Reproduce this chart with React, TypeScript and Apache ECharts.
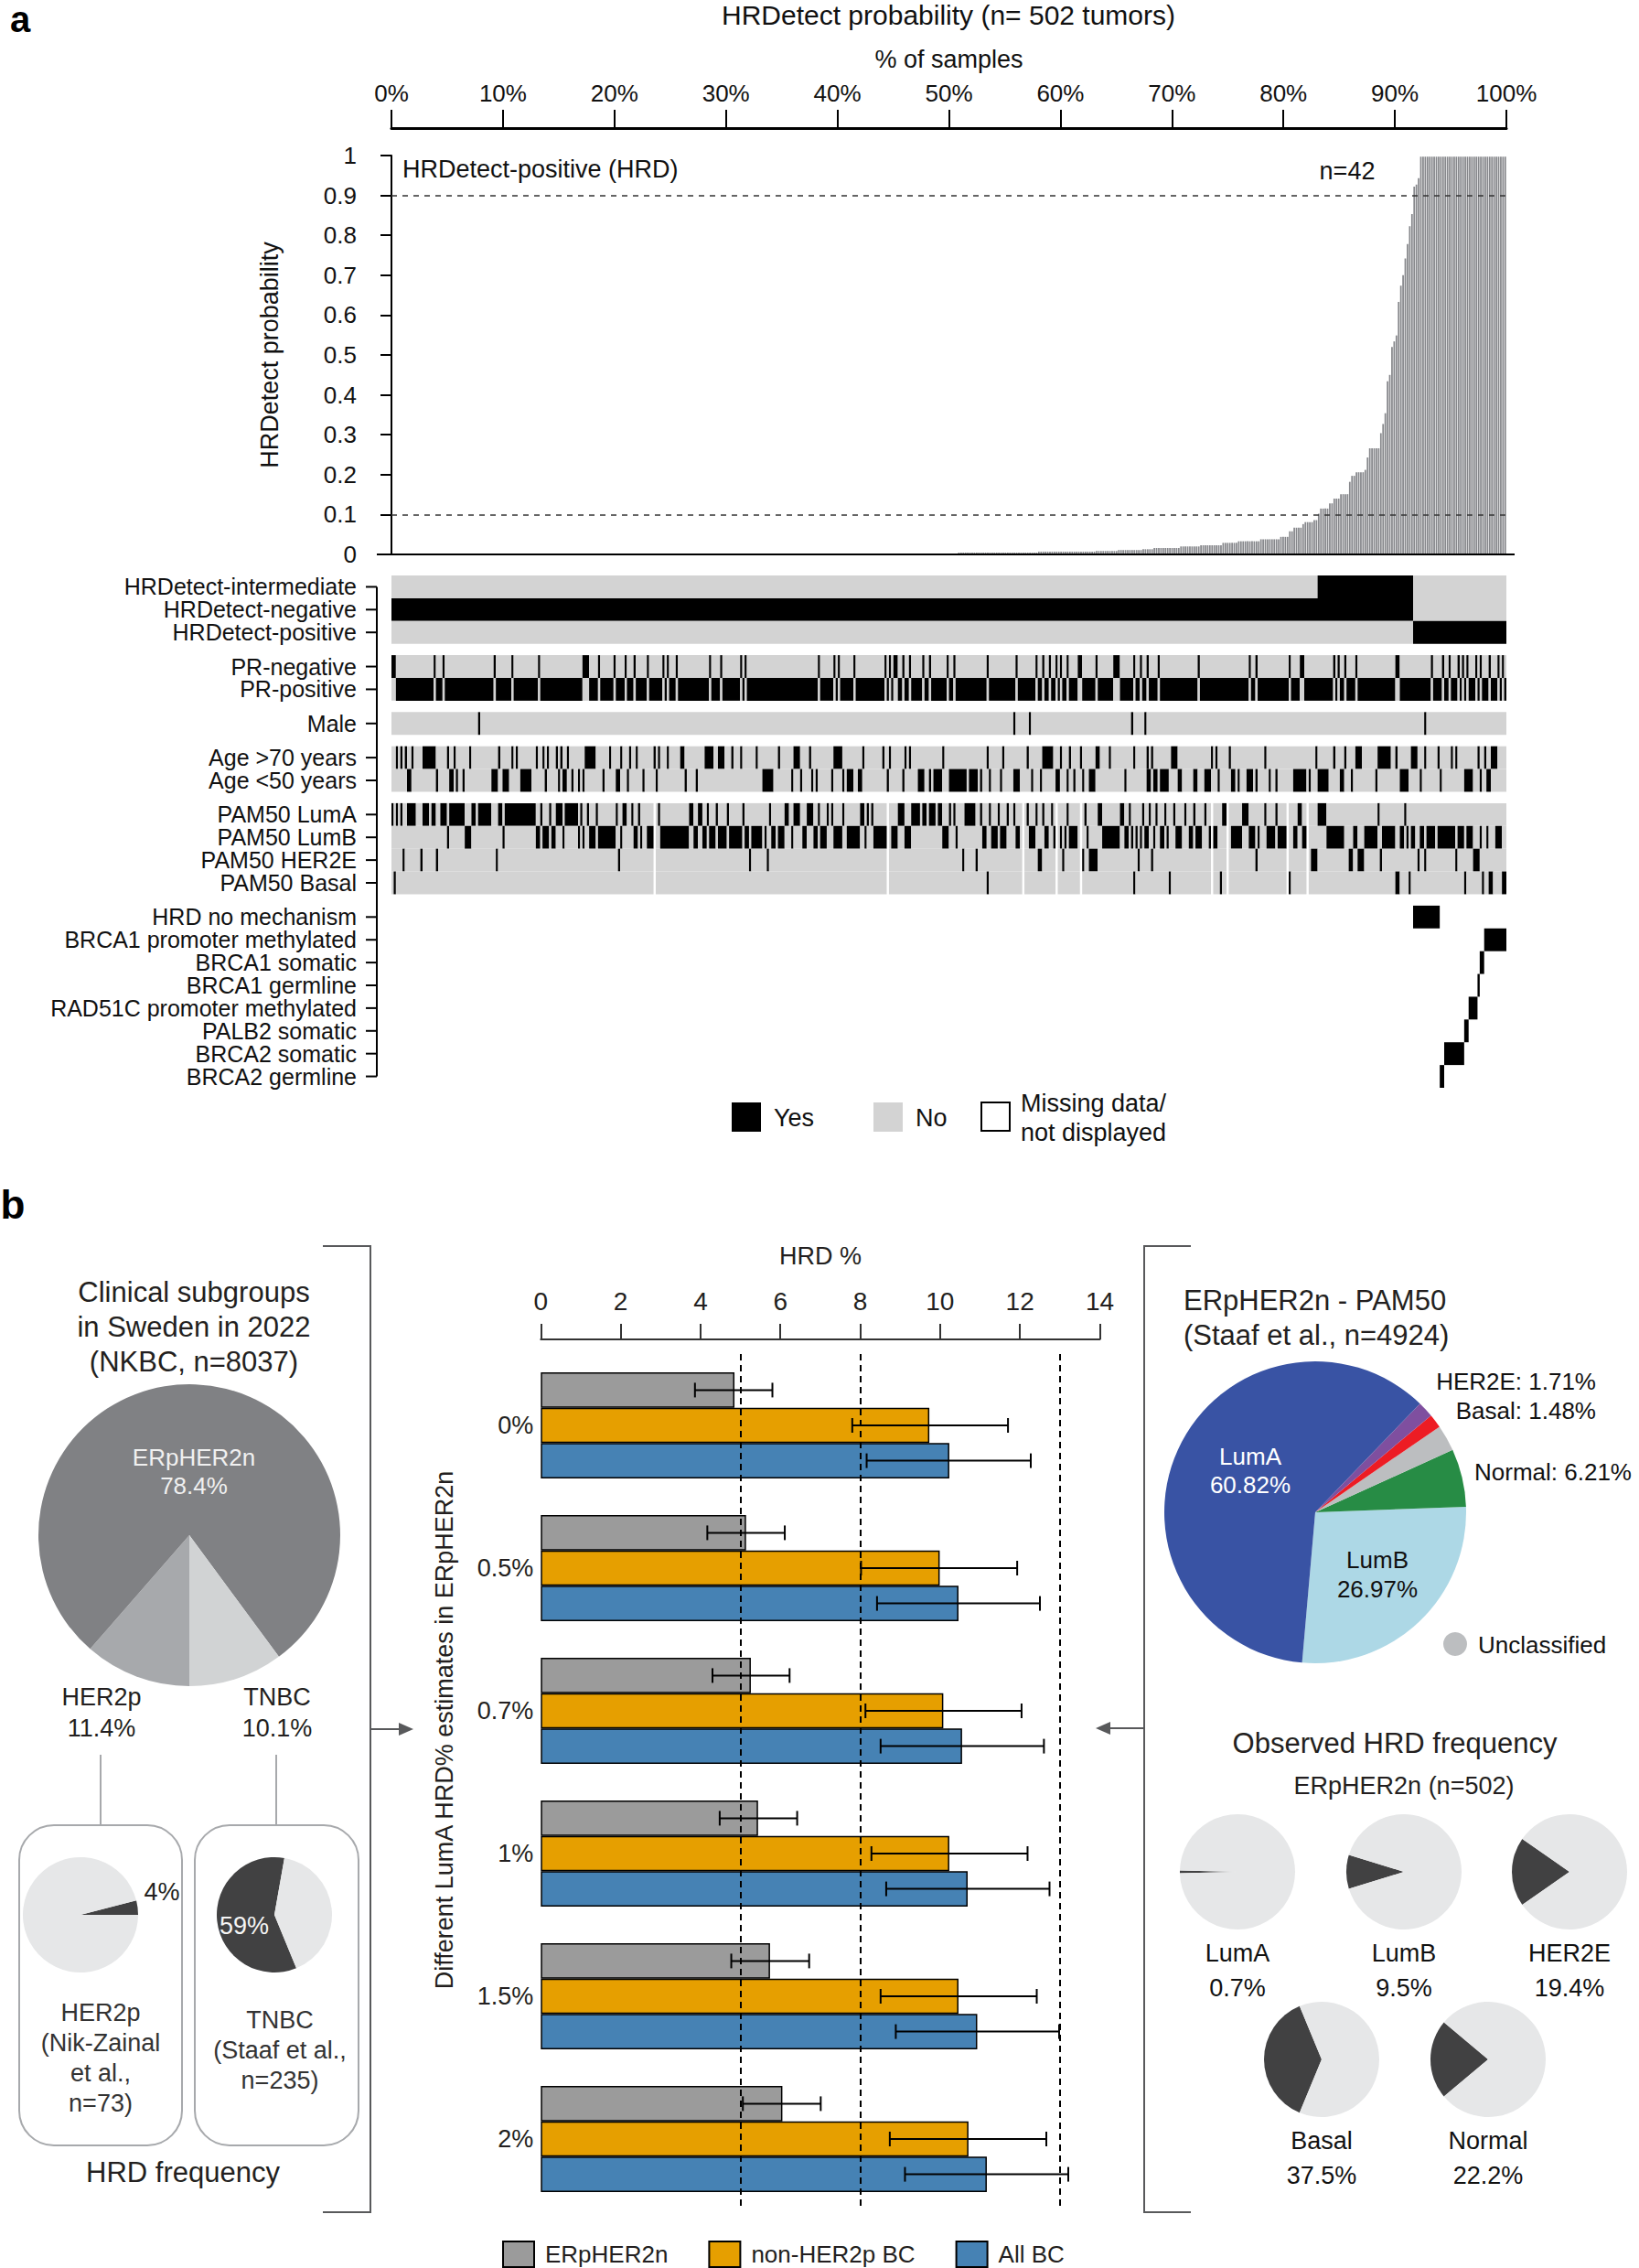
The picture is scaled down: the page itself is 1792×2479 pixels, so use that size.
import React, { useEffect, useRef } from "react";
import * as echarts from "echarts";

const FONT = '"Liberation Sans", Arial, Helvetica, sans-serif';
const N = 502;

// ---------------- Panel a: HRDetect probability, sorted (502 tumours) ----------------
// [number of consecutive tumours, HRDetect probability]
const HRDETECT_RUNS: [number, number][] = [
  [190, 0.0005], [65, 0.0023], [36, 0.0046], [26, 0.007], [10, 0.0085], [11, 0.011],
  [5, 0.013], [12, 0.016], [9, 0.02], [10, 0.023], [7, 0.029], [10, 0.033], [9, 0.038],
  [4, 0.044], [2, 0.058], [4, 0.067], [1, 0.076], [4, 0.081], [2, 0.086],
  [1, 0.102], [4, 0.115], [2, 0.128], [3, 0.14], [4, 0.151], [1, 0.182], [2, 0.197],
  [4, 0.206], [1, 0.212], [1, 0.243], [5, 0.266], [1, 0.304], [1, 0.327], [1, 0.354],
  [1, 0.434], [1, 0.45], [1, 0.52], [1, 0.534], [1, 0.549], [1, 0.633], [1, 0.674],
  [1, 0.7], [1, 0.742], [1, 0.778], [1, 0.823], [1, 0.853], [1, 0.922], [1, 0.927],
  [1, 0.943], [39, 0.997],
];
const HRD_THRESHOLDS = [0.9, 0.1];

type Mark = number | [number, number];

const TRACK_LABELS = [
  "HRDetect-intermediate", "HRDetect-negative", "HRDetect-positive",
  "PR-negative", "PR-positive",
  "Male",
  "Age >70 years", "Age <50 years",
  "PAM50 LumA", "PAM50 LumB", "PAM50 HER2E", "PAM50 Basal",
  "HRD no mechanism", "BRCA1 promoter methylated", "BRCA1 somatic", "BRCA1 germline",
  "RAD51C promoter methylated", "PALB2 somatic", "BRCA2 somatic", "BRCA2 germline",
];
const TRACK_GROUPS = [0, 0, 0, 1, 1, 2, 3, 3, 4, 4, 4, 4, 5, 5, 5, 5, 5, 5, 5, 5];

const HRD_INTERMEDIATE: Mark[] = [[417, 459]];
const HRD_NEGATIVE: Mark[] = [[0, 459]];
const HRD_POSITIVE: Mark[] = [[460, 501]];

const PR_NEGATIVE: Mark[] = [
  [0, 1], 19, 23, 46, 54, 66, 86, [87, 88], 93, 100, 105, 109, 115, 122, 124, 128, 143, 148,
  157, 159, 192, 199, 201, 208, 222, 224, 226, 227, 230, 233, 239, 242, 250, 253, 268, 281,
  290, 293, 296, 299, 301, 304, [309, 310], 317, [325, 327], 334, 337, 340, 345, 363, 386,
  389, 404, [409, 410], 424, 426, 429, 434, 452, 453, 468, 473, 476, 480, 482, 484, 488, 490,
  494, 498, 500,
];
const MALE: Mark[] = [39, 280, 287, 333, 339, 465];
const AGE_OVER70: Mark[] = [
  2, 4, 6, 9, [14, 19], 25, 28, 35, 48, 54, 56, 65, 68, 70, 74, 76, 79, [87, 91], 98, 103,
  107, 110, 118, 120, 124, [130, 131], [141, 144], [147, 149], 153, 157, 164, 174, [181, 183],
  188, [199, 202], 212, 221, 224, 231, 233, 248, 268, 275, 286, [293, 297], 301, 305, 310,
  [317, 318], 323, 334, 340, 342, [351, 353], 369, 371, 377, 393, 416, 424, 429, [434, 436],
  [444, 448], 449, 452, [459, 461], 465, 471, 477, 479, 489, 492, [495, 497],
];
const AGE_UNDER50: Mark[] = [
  [7, 8], 20, [26, 27], 29, 32, [45, 47], [50, 52], [58, 62], 69, 75, [77, 78], 81, 84, 86,
  95, [101, 102], 106, 113, 119, 132, 137, [167, 171], 180, 184, 189, 191, 198, 203,
  [205, 207], 210, 211, 223, 230, [237, 239], 242, [244, 247], [251, 258], [260, 263], 265,
  269, 274, [280, 282], 288, 292, [299, 300], 304, 307, 311, [314, 316], 330, [340, 341],
  [343, 344], [346, 349], [354, 355], [361, 362], [366, 368], 372, [378, 379], 381, [385, 387],
  389, 395, 398, [406, 411], 413, [417, 421], [427, 428], 432, 443, [454, 457], 463, 472,
  [483, 486], 490, [493, 494],
];

// PAM50 class per tumour (later lists take priority)
const PAM50_LUMB: Mark[] = [
  1, 5, 9, [18, 19], [23, 26], [28, 29], [32, 36], [39, 44], 50, 53, 57, 60, [65, 77], [80, 83],
  [84, 86], [88, 100], 103, [108, 110], 112, [115, 117], [120, 138], [140, 145], [147, 149],
  [150, 160], [161, 166], [168, 172], [174, 178], [180, 183], [185, 189], [190, 191],
  [193, 196], [198, 202], [205, 210], [211, 213], [217, 222], [225, 227], [230, 234],
  [236, 237], 242, [248, 250], 254, [265, 269], [270, 273], [274, 277], [280, 282], [286, 289],
  [292, 295], [298, 299], [301, 304], [305, 308], [313, 316], 317, [320, 327], [329, 331],
  [333, 336], 337, [339, 343], [346, 349], [352, 355], [359, 363], 364, [368, 371], 373,
  [378, 385], [386, 390], [393, 398], [399, 402], [406, 408], [409, 411], 414, 416, 418,
  [421, 428], [431, 435], [436, 440], [441, 444], [446, 451], [454, 460], [462, 465],
  [466, 469], [471, 478], [479, 482], [484, 486], 487, [489, 490], 493, [497, 499],
];
const PAM50_LUMA: Mark[] = [
  [0, 2], [4, 5], [7, 10], [13, 16], [18, 20], [22, 24], [26, 29], [30, 32], [36, 37], [39, 41],
  [42, 44], [48, 49], [51, 54], [55, 60], [61, 64], 67, 71, [74, 76], [78, 80], [81, 83], 85,
  88, 92, 101, [104, 105], 108, 111, 120, [134, 135], [138, 139], 142, 146, 151, 158, 170,
  [177, 178], [181, 183], [187, 189], 192, 196, 198, 203, [211, 212], 214, 216, [228, 230],
  [234, 237], [239, 240], [242, 244], [246, 247], 251, 253, [257, 262], 265, 269, 273, 277,
  280, 286, 290, 293, 297, 304, 312, 318, 319, [328, 329], 332, 336, 338, 341, 344, 348, 352,
  357, 361, 366, [374, 375], [383, 385], 393, 398, [408, 409], 414, [416, 420], [444, 445],
  456, 494,
];
const PAM50_HER2E: Mark[] = [
  5, 13, 20, 47, 102, 161, 169, 257, 263, [291, 292], 302, 311, [314, 317], 336, 342, 389,
  [414, 416], [431, 432], [435, 437], 445, 462, 465, 479, [487, 489], 501,
];
const PAM50_BASAL: Mark[] = [1, 268, 334, 350, 373, 404, [452, 453], 458, 483, 491, [494, 495], [500, 501]];
const PAM50_MISSING: Mark[] = [118, 223, 284, 299, 310, 369, 376, 403, 412];

const MECHANISMS: Mark[][] = [
  [[460, 471]], // HRD no mechanism
  [[492, 501]], // BRCA1 promoter methylated
  [[490, 491]], // BRCA1 somatic
  [489],        // BRCA1 germline
  [[485, 488]], // RAD51C promoter methylated
  [[483, 484]], // PALB2 somatic
  [[474, 482]], // BRCA2 somatic
  [[472, 473]], // BRCA2 germline
];

// ---------------- Panel b: HRD % estimates ----------------
const LUMA_HRD_CATS = ["0%", "0.5%", "0.7%", "1%", "1.5%", "2%"];
const ERPHER2N_HRD = [4.85, 5.14, 5.26, 5.44, 5.74, 6.05];
const ERPHER2N_LO = [3.86, 4.17, 4.3, 4.48, 4.77, 5.06];
const ERPHER2N_HI = [5.8, 6.11, 6.23, 6.42, 6.72, 7.01];
const NONHER2P_HRD = [9.73, 9.99, 10.08, 10.23, 10.46, 10.71];
const NONHER2P_LO = [7.8, 8.02, 8.13, 8.28, 8.51, 8.74];
const NONHER2P_HI = [11.7, 11.93, 12.04, 12.19, 12.42, 12.66];
const ALLBC_HRD = [10.23, 10.46, 10.55, 10.69, 10.93, 11.17];
const ALLBC_LO = [8.16, 8.42, 8.51, 8.65, 8.89, 9.12];
const ALLBC_HI = [12.27, 12.5, 12.6, 12.74, 12.98, 13.21];
const HRD_REF_LINES = [5, 8, 13];

const CLINICAL_NAMES = ["HER2p", "ERpHER2n", "TNBC"];
const CLINICAL_PCT = [11.4, 78.4, 10.1];
const HER2P_HRD_PCT = 4;
const TNBC_HRD_PCT = 59;

const PAM50_NAMES = ["LumB", "Normal", "Unclassified", "Basal", "HER2E", "LumA"];
const PAM50_PCT = [26.97, 6.21, 2.81, 1.48, 1.71, 60.82];

const OBS_NAMES = ["LumA", "LumB", "HER2E", "Basal", "Normal"];
const OBS_HRD_PCT = [0.7, 9.5, 19.4, 37.5, 22.2];

// ------------------------------------------------------------------
function markArray(marks: Mark[]): boolean[] {
  const a = new Array(N).fill(false);
  for (const m of marks) {
    const s = typeof m === "number" ? m : m[0];
    const e = typeof m === "number" ? m : m[1];
    for (let i = s; i <= e && i < N; i++) a[i] = true;
  }
  return a;
}

function buildOption(): any {
  const probs: number[] = [];
  HRDETECT_RUNS.forEach(([c, v]) => {
    for (let k = 0; k < c; k++) probs.push(v);
  });
  const sampleIds = probs.map((_, i) => "T" + (i + 1));

  const greyRow = (b: boolean[]) => b.map((x) => (x ? 2 : 1));
  const whiteRow = (b: boolean[]) => b.map((x) => (x ? 2 : 0));
  const prNeg = markArray(PR_NEGATIVE);
  const pam: string[] = new Array(N).fill("N");
  const setCls = (marks: Mark[], c: string) =>
    markArray(marks).forEach((b, i) => {
      if (b) pam[i] = c;
    });
  setCls(PAM50_LUMB, "B");
  setCls(PAM50_LUMA, "A");
  setCls(PAM50_HER2E, "H");
  setCls(PAM50_BASAL, "S");
  setCls(PAM50_MISSING, "X");
  const pamRow = (c: string) => pam.map((p) => (p === "X" ? 0 : p === c ? 2 : 1));

  const rows: number[][] = [
    greyRow(markArray(HRD_INTERMEDIATE)),
    greyRow(markArray(HRD_NEGATIVE)),
    greyRow(markArray(HRD_POSITIVE)),
    greyRow(prNeg),
    prNeg.map((b) => (b ? 1 : 2)),
    greyRow(markArray(MALE)),
    greyRow(markArray(AGE_OVER70)),
    greyRow(markArray(AGE_UNDER50)),
    pamRow("A"),
    pamRow("B"),
    pamRow("H"),
    pamRow("S"),
    ...MECHANISMS.map((m) => whiteRow(markArray(m))),
  ];
  const GAP = 0.5;
  const trackData: number[][] = [];
  rows.forEach((row, r) => {
    const top = r + TRACK_GROUPS[r] * GAP;
    let s = 0;
    for (let i = 1; i <= N; i++) {
      if (i === N || row[i] !== row[s]) {
        if (row[s] !== 0) trackData.push([s, top, i, row[s]]);
        s = i;
      }
    }
  });
  const yMax = rows.length + TRACK_GROUPS[TRACK_GROUPS.length - 1] * GAP;
  const centers = rows.map((_, r) => r + TRACK_GROUPS[r] * GAP + 0.5);
  const labelData = rows.map((_, r) => [0, centers[r], r]);

  const errData: number[][] = [];
  [
    [ERPHER2N_LO, ERPHER2N_HI],
    [NONHER2P_LO, NONHER2P_HI],
    [ALLBC_LO, ALLBC_HI],
  ].forEach(([lo, hi], s) => {
    lo.forEach((v, c) => errData.push([v, c, hi[c], s]));
  });
  const BW = 38.6;
  const EB_OFF = [-BW, 0, BW];

  const txt = (x: number, y: number, text: string, size = 27, align = "center", color = "#231f20", weight = "normal", rotation = 0) => ({
    type: "text",
    x,
    y,
    rotation,
    z: 100,
    silent: true,
    style: {
      text,
      fill: color,
      fontSize: size,
      fontFamily: FONT,
      fontWeight: weight,
      align,
      verticalAlign: "middle",
      textAlign: align,
      textVerticalAlign: "middle",
    },
  });
  const ln = (x1: number, y1: number, x2: number, y2: number, color = "#000", w = 2) => ({
    type: "line",
    z: 100,
    silent: true,
    shape: { x1, y1, x2, y2 },
    style: { stroke: color, lineWidth: w },
  });
  const BR = "#58595b";

  const graphic: any[] = [
    txt(22, 21, "a", 40, "center", "#000", "bold"),
    txt(1037, 16, "HRDetect probability (n= 502 tumors)", 30, "center", "#111"),
    txt(440, 185, "HRDetect-positive (HRD)", 27, "left", "#111"),
    txt(1473, 187, "n=42", 27, "center", "#111"),
    ln(412, 606, 1656, 606, "#000", 2),
    { type: "rect", z: 100, shape: { x: 800, y: 1205, width: 32, height: 32 }, style: { fill: "#000" } },
    txt(846, 1222, "Yes", 27, "left", "#111"),
    { type: "rect", z: 100, shape: { x: 955, y: 1205, width: 32, height: 32 }, style: { fill: "#d3d3d3" } },
    txt(1001, 1222, "No", 27, "left", "#111"),
    { type: "rect", z: 100, shape: { x: 1073, y: 1205, width: 31, height: 31 }, style: { fill: "#fff", stroke: "#000", lineWidth: 2 } },
    txt(1116, 1206, "Missing data/", 27, "left", "#111"),
    txt(1116, 1238, "not displayed", 27, "left", "#111"),

    // panel b
    txt(14, 1316, "b", 44, "center", "#000", "bold"),
    { type: "polyline", z: 100, shape: { points: [[353, 1362], [405, 1362], [405, 2418], [353, 2418]] }, style: { stroke: BR, lineWidth: 2, fill: "none" } },
    ln(405, 1890, 440, 1890, BR, 2),
    { type: "polygon", z: 100, shape: { points: [[436, 1883], [452, 1890], [436, 1897]] }, style: { fill: BR } },
    txt(212, 1412, "Clinical subgroups", 31),
    txt(212, 1450, "in Sweden in 2022", 31),
    txt(212, 1488, "(NKBC, n=8037)", 31),
    txt(212, 1593, "ERpHER2n", 26, "center", "#f0f0f0"),
    txt(212, 1624, "78.4%", 26, "center", "#f0f0f0"),
    txt(111, 1855, "HER2p", 27),
    txt(111, 1889, "11.4%", 27),
    txt(303, 1855, "TNBC", 27),
    txt(303, 1889, "10.1%", 27),
    ln(110, 1918, 110, 1995, "#a7a9ac", 2),
    ln(302, 1918, 302, 1995, "#a7a9ac", 2),
    { type: "rect", z: 100, shape: { x: 21, y: 1995, width: 178, height: 350, r: 38 }, style: { fill: "none", stroke: "#a7a9ac", lineWidth: 2 } },
    { type: "rect", z: 100, shape: { x: 213, y: 1995, width: 179, height: 350, r: 38 }, style: { fill: "none", stroke: "#a7a9ac", lineWidth: 2 } },
    txt(177, 2068, "4%", 27),
    txt(267, 2105, "59%", 27, "center", "#f5f5f5"),
    txt(110, 2200, "HER2p", 27, "center", "#333"),
    txt(110, 2233, "(Nik-Zainal", 27, "center", "#333"),
    txt(110, 2266, "et al.,", 27, "center", "#333"),
    txt(110, 2299, "n=73)", 27, "center", "#333"),
    txt(306, 2208, "TNBC", 27, "center", "#333"),
    txt(306, 2241, "(Staaf et al.,", 27, "center", "#333"),
    txt(306, 2274, "n=235)", 27, "center", "#333"),
    txt(200, 2374, "HRD frequency", 31),

    // axis title of the HRD% bar chart (centred as in the reference, not on the grid)
    txt(486, 1891, "Different LumA HRD% estimates in ERpHER2n", 27, "center", "#231f20", "normal", Math.PI / 2),

    { type: "polyline", z: 100, shape: { points: [[1302, 1362], [1251, 1362], [1251, 2418], [1302, 2418]] }, style: { stroke: BR, lineWidth: 2, fill: "none" } },
    ln(1251, 1889, 1212, 1889, BR, 2),
    { type: "polygon", z: 100, shape: { points: [[1214, 1882], [1198, 1889], [1214, 1896]] }, style: { fill: BR } },
    txt(1294, 1421, "ERpHER2n - PAM50", 31, "left"),
    txt(1294, 1459, "(Staaf et al., n=4924)", 31, "left"),
    txt(1367, 1592, "LumA", 26, "center", "#ffffff"),
    txt(1367, 1623, "60.82%", 26, "center", "#ffffff"),
    txt(1506, 1705, "LumB", 26, "center", "#111"),
    txt(1506, 1737, "26.97%", 26, "center", "#111"),
    txt(1745, 1510, "HER2E: 1.71%", 26, "right", "#111"),
    txt(1745, 1542, "Basal: 1.48%", 26, "right", "#111"),
    txt(1612, 1609, "Normal: 6.21%", 26, "left", "#111"),
    { type: "circle", z: 100, shape: { cx: 1591, cy: 1797, r: 13 }, style: { fill: "#bcbec0" } },
    txt(1616, 1798, "Unclassified", 26, "left", "#111"),
    txt(1525, 1905, "Observed HRD frequency", 31),
    txt(1535, 1952, "ERpHER2n (n=502)", 27),
  ];

  const obsCenters = [[1353, 2046], [1535, 2046], [1716, 2046], [1445, 2251], [1627, 2251]];
  OBS_NAMES.forEach((nm, i) => {
    const [cx, cy] = obsCenters[i];
    graphic.push(txt(cx, cy + 89, nm, 27, "center", "#111"));
    graphic.push(txt(cx, cy + 127, OBS_HRD_PCT[i] + "%", 27, "center", "#111"));
  });

  const DARK = "#414142";
  const LIGHT = "#e6e7e8";
  const pieBase = {
    type: "pie",
    silent: true,
    label: { show: false },
    labelLine: { show: false },
    emphasis: { disabled: true },
    itemStyle: { borderWidth: 0 },
  };
  const clinicalColors = ["#a7a9ac", "#808184", "#d1d3d4"];
  const pam50Colors = ["#add8e6", "#278c45", "#bcbec0", "#ed1c24", "#7f4f9f", "#3953a4"];

  const pies: any[] = [
    {
      ...pieBase,
      center: [207, 1678],
      radius: 165,
      startAngle: 270,
      clockwise: true,
      data: CLINICAL_NAMES.map((n, i) => ({ name: n + " (NKBC)", value: CLINICAL_PCT[i], itemStyle: { color: clinicalColors[i] } })),
    },
    {
      ...pieBase,
      center: [88, 2093],
      radius: 63,
      startAngle: 0,
      clockwise: false,
      data: [
        { name: "HER2p HRD", value: HER2P_HRD_PCT, itemStyle: { color: DARK } },
        { name: "HER2p non-HRD", value: 100 - HER2P_HRD_PCT, itemStyle: { color: LIGHT } },
      ],
    },
    {
      ...pieBase,
      center: [300, 2093],
      radius: 63,
      startAngle: 80,
      clockwise: false,
      data: [
        { name: "TNBC HRD", value: TNBC_HRD_PCT, itemStyle: { color: DARK } },
        { name: "TNBC non-HRD", value: 100 - TNBC_HRD_PCT, itemStyle: { color: LIGHT } },
      ],
    },
    {
      ...pieBase,
      center: [1438, 1653],
      radius: 165,
      startAngle: 265,
      clockwise: false,
      data: PAM50_NAMES.map((n, i) => ({ name: "PAM50 " + n, value: PAM50_PCT[i], itemStyle: { color: pam50Colors[i] } })),
    },
    ...OBS_NAMES.map((n, i) => ({
      ...pieBase,
      center: obsCenters[i],
      radius: 63,
      startAngle: 180 - OBS_HRD_PCT[i] * 1.8,
      clockwise: false,
      data: [
        { name: n + " HRD", value: OBS_HRD_PCT[i], itemStyle: { color: DARK } },
        { name: n + " non-HRD", value: 100 - OBS_HRD_PCT[i], itemStyle: { color: LIGHT } },
      ],
    })),
  ];

  const barColors = ["#9b9b9b", "#e69f00", "#4682b4"];
  const barNames = ["ERpHER2n", "non-HER2p BC", "All BC"];
  const barVals = [ERPHER2N_HRD, NONHER2P_HRD, ALLBC_HRD];

  return {
    animation: false,
    backgroundColor: "#ffffff",
    textStyle: { fontFamily: FONT },
    grid: [
      { left: 428, top: 170, width: 1219, height: 436 },
      { left: 428, top: 629, width: 1219, height: 560 },
      { left: 591.3, top: 1480, width: 611.2, height: 936 },
    ],
    xAxis: [
      { type: "category", gridIndex: 0, data: sampleIds, show: false, boundaryGap: true },
      {
        type: "value",
        gridIndex: 0,
        position: "top",
        offset: 30,
        min: 0,
        max: 100,
        interval: 10,
        axisLine: { show: true, lineStyle: { color: "#000", width: 3 } },
        axisTick: { show: true, length: 20, lineStyle: { color: "#000", width: 2 } },
        axisLabel: { formatter: "{value}%", fontSize: 26, color: "#111", margin: 25, fontFamily: FONT },
        splitLine: { show: false },
        name: "% of samples",
        nameLocation: "middle",
        nameGap: 62,
        nameTextStyle: { fontSize: 27, color: "#111", fontFamily: FONT },
      },
      { type: "value", gridIndex: 1, min: 0, max: N, show: false },
      {
        type: "value",
        gridIndex: 2,
        position: "top",
        offset: 16,
        min: 0,
        max: 14,
        interval: 2,
        axisLine: { show: true, lineStyle: { color: "#333", width: 2 } },
        axisTick: { show: true, length: 17, lineStyle: { color: "#333", width: 2 } },
        axisLabel: { fontSize: 28, color: "#231f20", margin: 28, fontFamily: FONT },
        splitLine: { show: false },
        name: "HRD %",
        nameLocation: "middle",
        nameGap: 78,
        nameTextStyle: { fontSize: 27, color: "#231f20", fontFamily: FONT },
      },
    ],
    yAxis: [
      {
        type: "value",
        gridIndex: 0,
        min: 0,
        max: 1,
        interval: 0.1,
        offset: 16,
        axisLine: { show: true, lineStyle: { color: "#000", width: 2 } },
        axisTick: { show: true, length: 12, lineStyle: { color: "#000", width: 2 } },
        axisLabel: {
          fontSize: 26,
          color: "#111",
          margin: 22,
          fontFamily: FONT,
          formatter: (v: number) => (v === 0 ? "0" : v >= 0.999 ? "1" : v.toFixed(1)),
        },
        splitLine: { show: false },
        name: "HRDetect probability",
        nameLocation: "middle",
        nameGap: 104,
        nameRotate: 90,
        nameTextStyle: { fontSize: 27, color: "#111", fontFamily: FONT },
      },
      { type: "value", gridIndex: 1, min: 0, max: yMax, inverse: true, show: false },
      {
        type: "category",
        gridIndex: 2,
        data: LUMA_HRD_CATS,
        inverse: true,
        axisLine: { show: false },
        axisTick: { show: false },
        axisLabel: { fontSize: 27, color: "#231f20", margin: 8, fontFamily: FONT },
      },
    ],
    legend: {
      data: barNames,
      left: 544,
      top: 2444,
      itemWidth: 34,
      itemHeight: 28,
      itemGap: 44,
      icon: "rect",
      selectedMode: false,
      textStyle: { fontSize: 26, lineHeight: 26, color: "#231f20", fontFamily: FONT, padding: [0, 0, 0, 7] },
    },
    graphic: { elements: graphic },
    series: [
      {
        type: "bar",
        name: "HRDetect probability",
        xAxisIndex: 0,
        yAxisIndex: 0,
        data: probs,
        barCategoryGap: "28%",
        itemStyle: { color: "#86878b" },
        silent: true,
        markLine: {
          silent: true,
          symbol: ["none", "none"],
          label: { show: false },
          lineStyle: { type: [6, 6], color: "#333", width: 1.5 },
          data: HRD_THRESHOLDS.map((v) => ({ yAxis: v })),
        },
      },
      {
        type: "custom",
        name: "tracks",
        xAxisIndex: 2,
        yAxisIndex: 1,
        clip: false,
        silent: true,
        encode: { x: 0, y: 1 },
        data: trackData,
        renderItem: (params: any, api: any) => {
          const p0 = api.coord([api.value(0), api.value(1)]);
          const p1 = api.coord([api.value(2), api.value(1) + 1]);
          const s = api.value(3);
          return {
            type: "rect",
            shape: { x: p0[0], y: p0[1], width: p1[0] - p0[0], height: p1[1] - p0[1] },
            style: { fill: s === 2 ? "#000000" : "#d3d3d3" },
          };
        },
      },
      {
        type: "custom",
        name: "track labels",
        xAxisIndex: 2,
        yAxisIndex: 1,
        clip: false,
        silent: true,
        encode: { x: 0, y: 1 },
        data: labelData,
        renderItem: (params: any, api: any) => {
          const r = api.value(2);
          const p = api.coord([0, api.value(1)]);
          const ax = p[0] - 16;
          const children: any[] = [
            { type: "line", shape: { x1: ax - 12, y1: p[1], x2: ax, y2: p[1] }, style: { stroke: "#000", lineWidth: 2 } },
            {
              type: "text",
              style: {
                text: TRACK_LABELS[r],
                x: ax - 22,
                y: p[1],
                align: "right",
                verticalAlign: "middle",
                textAlign: "right",
                textVerticalAlign: "middle",
                fill: "#111",
                fontSize: 25,
                lineHeight: 23,
                fontFamily: FONT,
              },
            },
          ];
          if (r === 0) {
            const q0 = api.coord([0, centers[0]]);
            const q1 = api.coord([0, centers[centers.length - 1]]);
            children.push({ type: "line", shape: { x1: ax, y1: q0[1], x2: ax, y2: q1[1] }, style: { stroke: "#000", lineWidth: 2 } });
          }
          return { type: "group", children };
        },
      },
      ...barNames.map((nm, s) => ({
        type: "bar",
        name: nm,
        xAxisIndex: 3,
        yAxisIndex: 2,
        data: barVals[s],
        barWidth: BW,
        barGap: "0%",
        silent: true,
        itemStyle: { color: barColors[s], borderColor: "#000", borderWidth: 1.5 },
        markLine:
          s === 0
            ? {
                silent: true,
                symbol: ["none", "none"],
                label: { show: false },
                lineStyle: { type: [7, 5], color: "#000", width: 2 },
                data: HRD_REF_LINES.map((v) => ({ xAxis: v })),
              }
            : undefined,
      })),
      {
        type: "custom",
        name: "error bars",
        xAxisIndex: 3,
        yAxisIndex: 2,
        clip: false,
        silent: true,
        encode: { x: 0, y: 1 },
        data: errData,
        z: 5,
        renderItem: (params: any, api: any) => {
          const c = api.value(1);
          const a = api.coord([api.value(0), c]);
          const b = api.coord([api.value(2), c]);
          const y = a[1] + EB_OFF[api.value(3)];
          const st = { stroke: "#000", lineWidth: 2 };
          return {
            type: "group",
            children: [
              { type: "line", shape: { x1: a[0], y1: y, x2: b[0], y2: y }, style: st },
              { type: "line", shape: { x1: a[0], y1: y - 8, x2: a[0], y2: y + 8 }, style: st },
              { type: "line", shape: { x1: b[0], y1: y - 8, x2: b[0], y2: y + 8 }, style: st },
            ],
          };
        },
      },
      ...pies,
    ],
  };
}

export default function App() {
  const ref = useRef<HTMLDivElement>(null);
  useEffect(() => {
    document.body.style.margin = "0";
    if (!ref.current) return;
    const chart = echarts.init(ref.current, undefined, { renderer: "svg" });
    chart.setOption(buildOption());
    return () => chart.dispose();
  }, []);
  return <div ref={ref} style={{ width: 1792, height: 2479, background: "#fff" }} />;
}
